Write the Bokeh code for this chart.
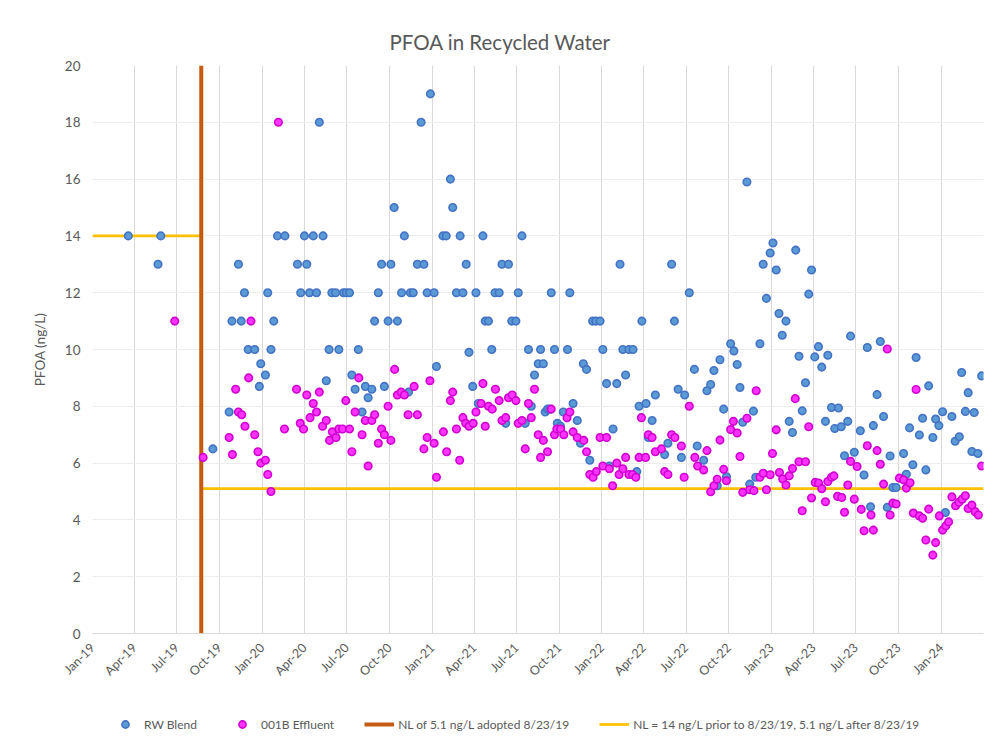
import math
import pandas as pd
from bokeh.plotting import figure
from bokeh.layouts import column
from bokeh.models import (Legend, LegendItem, FixedTicker, DatetimeTickFormatter, Range1d)
from bokeh.embed import file_html
from bokeh.resources import INLINE

# ---------------- data ----------------
rw_dates = [
    "2019-03-19", "2019-05-22", "2019-05-28", "2019-09-17", "2019-10-22", "2019-10-28", "2019-11-11", "2019-11-17",
    "2019-11-24", "2019-12-02", "2019-12-16", "2019-12-26", "2019-12-29", "2020-01-08", "2020-01-13", "2020-01-20",
    "2020-01-26", "2020-02-03", "2020-02-19", "2020-03-17", "2020-03-24", "2020-04-01", "2020-04-06", "2020-04-12",
    "2020-04-20", "2020-04-27", "2020-05-03", "2020-05-11", "2020-05-18", "2020-05-24", "2020-05-30", "2020-06-07",
    "2020-06-14", "2020-06-24", "2020-06-30", "2020-07-07", "2020-07-12", "2020-07-19", "2020-07-26", "2020-08-03",
    "2020-08-10", "2020-08-16", "2020-08-24", "2020-08-30", "2020-09-07", "2020-09-14", "2020-09-20", "2020-09-28",
    "2020-10-04", "2020-10-11", "2020-10-18", "2020-10-27", "2020-11-02", "2020-11-11", "2020-11-15", "2020-11-21",
    "2020-11-30", "2020-12-08", "2020-12-14", "2020-12-21", "2020-12-28", "2021-01-05", "2021-01-10", "2021-01-24",
    "2021-01-31", "2021-02-09", "2021-02-14", "2021-02-22", "2021-03-02", "2021-03-08", "2021-03-15", "2021-03-21",
    "2021-03-29", "2021-04-05", "2021-04-10", "2021-04-20", "2021-04-25", "2021-05-02", "2021-05-09", "2021-05-16",
    "2021-05-25", "2021-05-31", "2021-06-08", "2021-06-14", "2021-06-21", "2021-06-30", "2021-07-05", "2021-07-13",
    "2021-07-20", "2021-07-27", "2021-08-02", "2021-08-09", "2021-08-17", "2021-08-22", "2021-08-28", "2021-09-01",
    "2021-09-06", "2021-09-11", "2021-09-14", "2021-09-21", "2021-09-27", "2021-10-04", "2021-10-10", "2021-10-19",
    "2021-10-24", "2021-10-31", "2021-11-09", "2021-11-16", "2021-11-22", "2021-11-29", "2021-12-06", "2021-12-12",
    "2021-12-19", "2021-12-28", "2022-01-03", "2022-01-11", "2022-01-17", "2022-01-25", "2022-02-02", "2022-02-09",
    "2022-02-15", "2022-02-21", "2022-02-28", "2022-03-09", "2022-03-17", "2022-03-22", "2022-03-28", "2022-04-06",
    "2022-04-11", "2022-04-19", "2022-04-26", "2022-05-16", "2022-05-23", "2022-05-31", "2022-06-06", "2022-06-14",
    "2022-06-21", "2022-06-28", "2022-07-08", "2022-07-19", "2022-07-25", "2022-08-08", "2022-08-15", "2022-08-23",
    "2022-08-30", "2022-09-06", "2022-09-12", "2022-09-20", "2022-09-26", "2022-10-05", "2022-10-12", "2022-10-19",
    "2022-10-25", "2022-10-31", "2022-11-09", "2022-11-15", "2022-11-23", "2022-11-28", "2022-12-07", "2022-12-14",
    "2022-12-21", "2022-12-29", "2023-01-04", "2023-01-11", "2023-01-17", "2023-01-24", "2023-02-01", "2023-02-08",
    "2023-02-15", "2023-02-22", "2023-03-01", "2023-03-08", "2023-03-15", "2023-03-22", "2023-03-28", "2023-04-04",
    "2023-04-12", "2023-04-19", "2023-04-27", "2023-05-02", "2023-05-10", "2023-05-17", "2023-05-25", "2023-05-31",
    "2023-06-07", "2023-06-14", "2023-06-20", "2023-06-28", "2023-07-11", "2023-07-19", "2023-07-26", "2023-08-02",
    "2023-08-08", "2023-08-16", "2023-08-23", "2023-08-30", "2023-09-07", "2023-09-13", "2023-09-19", "2023-09-26",
    "2023-10-12", "2023-10-18", "2023-10-25", "2023-11-01", "2023-11-08", "2023-11-15", "2023-11-22", "2023-11-29",
    "2023-12-05", "2023-12-14", "2023-12-20", "2023-12-27", "2024-01-04", "2024-01-10", "2024-01-24", "2024-01-31",
    "2024-02-09", "2024-02-14", "2024-02-22", "2024-02-28", "2024-03-07", "2024-03-12", "2024-03-20", "2024-03-28",
]
rw_values = [
    14, 13, 14, 6.5, 7.8, 11, 13, 11,
    12, 10, 10, 8.7, 9.5, 9.1, 12, 10,
    11, 14, 14, 13, 12, 14, 13, 12,
    14, 12, 18, 14, 8.9, 10, 12, 12,
    10, 12, 12, 12, 9.1, 8.6, 10, 7.8,
    8.7, 8.3, 8.6, 11, 12, 13, 8.7, 11,
    13, 15, 11, 12, 14, 8.5, 12, 12,
    13, 18, 13, 12, 19, 12, 9.4, 14,
    14, 16, 15, 12, 14, 12, 13, 9.9,
    8.7, 12, 8.1, 14, 11, 11, 10, 12,
    12, 13, 7.4, 13, 11, 11, 12, 14,
    7.4, 10, 8.0, 9.1, 9.5, 10, 9.5, 7.8,
    7.9, 7.9, 12, 10, 7.4, 7.3, 7.8, 10,
    12, 8.1, 7.5, 6.7, 9.5, 9.3, 6.1, 11,
    11, 11, 10, 8.8, 5.9, 7.2, 8.8, 13,
    10, 9.1, 10, 10, 5.7, 8.0, 11, 8.1,
    6.9, 7.5, 8.4, 6.3, 6.7, 13, 11, 8.6,
    6.2, 8.4, 12, 9.3, 6.6, 6.1, 8.55, 8.77,
    9.26, 5.2, 9.64, 7.9, 5.52, 10.2, 9.95, 9.47,
    8.66, 7.44, 15.9, 5.26, 7.83, 5.5, 10.2, 13.0,
    11.8, 13.4, 13.75, 12.8, 11.27, 10.5, 11.0, 7.47,
    7.08, 13.5, 9.76, 7.84, 8.83, 11.95, 12.8, 9.74,
    10.1, 9.38, 7.47, 9.8, 7.96, 7.22, 7.94, 7.28,
    6.26, 7.47, 10.47, 6.38, 7.14, 5.58, 10.07, 4.46,
    7.32, 8.41, 10.28, 7.64, 4.44, 6.25, 5.14, 5.14,
    6.34, 5.61, 7.24, 5.94, 9.72, 6.99, 7.58, 5.76,
    8.72, 6.9, 7.55, 7.32, 7.81, 4.26, 7.64, 6.77,
    6.93, 9.19, 7.82, 8.48, 6.41, 7.78, 6.34, 9.07,
]

eff_dates = [
    "2019-06-27", "2019-08-27", "2019-10-22", "2019-10-29", "2019-11-05", "2019-11-11", "2019-11-18", "2019-11-25",
    "2019-12-03", "2019-12-08", "2019-12-16", "2019-12-23", "2019-12-29", "2020-01-08", "2020-01-13", "2020-01-20",
    "2020-02-05", "2020-02-18", "2020-03-15", "2020-03-23", "2020-03-30", "2020-04-06", "2020-04-13", "2020-04-20",
    "2020-04-27", "2020-05-03", "2020-05-10", "2020-05-18", "2020-05-25", "2020-05-31", "2020-06-08", "2020-06-14",
    "2020-06-22", "2020-06-29", "2020-07-07", "2020-07-12", "2020-07-19", "2020-07-27", "2020-08-03", "2020-08-10",
    "2020-08-16", "2020-08-24", "2020-08-30", "2020-09-07", "2020-09-14", "2020-09-20", "2020-09-28", "2020-10-04",
    "2020-10-12", "2020-10-18", "2020-10-26", "2020-11-02", "2020-11-10", "2020-11-23", "2020-11-30", "2020-12-14",
    "2020-12-21", "2020-12-27", "2021-01-05", "2021-01-10", "2021-01-25", "2021-02-01", "2021-02-09", "2021-02-14",
    "2021-02-22", "2021-03-01", "2021-03-08", "2021-03-14", "2021-03-21", "2021-03-30", "2021-04-05", "2021-04-16",
    "2021-04-20", "2021-04-25", "2021-05-02", "2021-05-10", "2021-05-17", "2021-05-25", "2021-05-31", "2021-06-08",
    "2021-06-14", "2021-06-22", "2021-06-30", "2021-07-05", "2021-07-13", "2021-07-20", "2021-07-27", "2021-08-02",
    "2021-08-09", "2021-08-17", "2021-08-22", "2021-08-28", "2021-09-06", "2021-09-14", "2021-09-21", "2021-09-26",
    "2021-10-04", "2021-10-11", "2021-10-18", "2021-10-24", "2021-10-31", "2021-11-09", "2021-11-23", "2021-11-29",
    "2021-12-06", "2021-12-13", "2021-12-20", "2021-12-28", "2022-01-03", "2022-01-11", "2022-01-17", "2022-01-24",
    "2022-02-02", "2022-02-07", "2022-02-15", "2022-02-21", "2022-02-28", "2022-03-08", "2022-03-15", "2022-03-22",
    "2022-03-27", "2022-04-05", "2022-04-11", "2022-04-19", "2022-04-26", "2022-05-09", "2022-05-16", "2022-05-23",
    "2022-05-31", "2022-06-07", "2022-06-21", "2022-06-27", "2022-07-08", "2022-07-20", "2022-07-26", "2022-08-08",
    "2022-08-15", "2022-08-23", "2022-08-30", "2022-09-06", "2022-09-12", "2022-09-20", "2022-09-26", "2022-10-05",
    "2022-10-11", "2022-10-19", "2022-10-25", "2022-10-31", "2022-11-09", "2022-11-15", "2022-11-24", "2022-11-29",
    "2022-12-07", "2022-12-14", "2022-12-21", "2022-12-29", "2023-01-03", "2023-01-11", "2023-01-18", "2023-01-25",
    "2023-02-01", "2023-02-08", "2023-02-15", "2023-02-21", "2023-03-01", "2023-03-08", "2023-03-15", "2023-03-22",
    "2023-03-28", "2023-04-05", "2023-04-12", "2023-04-19", "2023-04-27", "2023-05-02", "2023-05-10", "2023-05-15",
    "2023-05-23", "2023-06-01", "2023-06-07", "2023-06-14", "2023-06-20", "2023-06-28", "2023-07-04", "2023-07-13",
    "2023-07-19", "2023-07-26", "2023-08-03", "2023-08-08", "2023-08-16", "2023-08-23", "2023-08-30", "2023-09-07",
    "2023-09-13", "2023-09-19", "2023-09-26", "2023-10-03", "2023-10-12", "2023-10-18", "2023-10-26", "2023-11-02",
    "2023-11-08", "2023-11-15", "2023-11-22", "2023-11-29", "2023-12-05", "2023-12-14", "2023-12-20", "2023-12-28",
    "2024-01-04", "2024-01-11", "2024-01-17", "2024-01-24", "2024-02-01", "2024-02-08", "2024-02-15", "2024-02-22",
    "2024-02-28", "2024-03-07", "2024-03-14", "2024-03-21", "2024-03-28",
]
eff_values = [
    11, 6.2, 6.9, 6.3, 8.6, 7.8, 7.7, 7.3,
    9.0, 11, 7.0, 6.4, 6.0, 6.1, 5.6, 5.0,
    18, 7.2, 8.6, 7.4, 7.2, 8.4, 7.6, 8.1,
    7.8, 8.5, 7.3, 7.5, 6.8, 7.1, 6.9, 7.2,
    7.2, 8.2, 7.2, 6.4, 7.8, 9.0, 7.0, 7.5,
    5.9, 7.5, 7.7, 6.7, 7.2, 7.0, 8.0, 6.8,
    9.3, 8.4, 8.5, 8.4, 7.7, 8.7, 7.7, 6.5,
    6.9, 8.9, 6.7, 5.5, 7.1, 6.4, 8.2, 8.5,
    7.2, 6.1, 7.6, 7.4, 7.3, 7.4, 7.8, 8.1,
    8.8, 7.3, 8.0, 7.9, 8.6, 8.2, 7.5, 7.6,
    8.3, 8.4, 8.2, 7.4, 7.5, 6.5, 8.1, 7.6,
    8.6, 7.0, 6.2, 6.8, 6.4, 7.9, 7.0, 7.2,
    7.2, 7.0, 7.6, 7.8, 7.1, 6.9, 6.8, 6.4,
    5.6, 5.5, 5.7, 6.9, 5.9, 6.9, 5.8, 5.2,
    6.0, 5.6, 5.8, 6.2, 5.6, 5.6, 5.5, 6.2,
    7.6, 6.2, 7.0, 6.9, 6.4, 6.5, 5.7, 5.6,
    7.0, 6.9, 6.6, 5.5, 8.0, 6.2, 5.9, 5.76,
    6.44, 4.99, 5.2, 5.43, 6.81, 5.78, 5.38, 7.18,
    7.47, 7.06, 6.23, 4.97, 7.58, 5.06, 5.03, 8.55,
    5.5, 5.64, 5.06, 5.59, 6.34, 7.17, 5.67, 5.44,
    5.23, 5.55, 5.81, 8.27, 6.05, 4.32, 6.05, 7.28,
    4.77, 5.32, 5.3, 5.1, 4.64, 5.35, 5.5, 5.55,
    4.83, 4.79, 4.27, 5.23, 6.06, 4.73, 5.88, 4.37,
    3.62, 6.61, 4.17, 3.64, 6.44, 5.96, 5.26, 10.02,
    4.17, 4.59, 4.56, 5.47, 5.41, 5.12, 5.31, 4.24,
    8.59, 4.14, 4.06, 3.29, 4.38, 2.76, 3.2, 4.14,
    3.64, 3.79, 3.93, 4.81, 4.5, 4.62, 4.73, 4.85,
    4.4, 4.52, 4.29, 4.17, 5.9,
]

nl_adopted_date = "2019-08-23"
nl_prior = 14
nl_after = 5.1
x_start = "2019-01-01"
x_end = "2024-04-01"
y_min, y_max = 0, 20
y_ticks = [0, 2, 4, 6, 8, 10, 12, 14, 16, 18, 20]
quarter_ticks = [
    "2019-01-01", "2019-04-01", "2019-07-01", "2019-10-01",
    "2020-01-01", "2020-04-01", "2020-07-01", "2020-10-01",
    "2021-01-01", "2021-04-01", "2021-07-01", "2021-10-01",
    "2022-01-01", "2022-04-01", "2022-07-01", "2022-10-01",
    "2023-01-01", "2023-04-01", "2023-07-01", "2023-10-01",
    "2024-01-01",
]

title_text = "PFOA in Recycled Water"
y_label = "PFOA (ng/L)"
label_rw = "RW Blend"
label_eff = "001B Effluent"
label_nl_adopt = "NL of 5.1 ng/L adopted 8/23/19"
label_nl = "NL = 14 ng/L prior to 8/23/19, 5.1 ng/L after 8/23/19"

# ---------------- styling ----------------
FONT = "Lato"
GREY = "#595959"
RW_FILL, RW_LINE = "#5B9BD5", "#4472C4"
EFF_FILL, EFF_LINE = "#FF33FF", "#D000D0"
NL_COLOR, ADOPT_COLOR = "#FFC000", "#C55A11"


def ms(d):
    return pd.Timestamp(d).value / 1e6


x_range = Range1d(pd.Timestamp(x_start), pd.Timestamp(x_end))

p = figure(
    width=1000, height=705,
    x_axis_type="datetime",
    x_range=x_range,
    y_range=Range1d(y_min, y_max),
    output_backend="svg", toolbar_location=None,
    min_border_left=92, min_border_right=17, min_border_top=65, min_border_bottom=72,
)
p.outline_line_color = None
p.background_fill_color = "white"
p.border_fill_color = "white"

p.title.text = title_text
p.title.align = "left"
p.title.offset = 297
p.title.standoff = 24
p.title.text_font = FONT
p.title.text_font_size = "20.5px"
p.title.text_font_style = "normal"
p.title.text_color = GREY

# axes
xa = p.xaxis[0]
xa.ticker = FixedTicker(ticks=[ms(d) for d in quarter_ticks])
fmt = "%b-%y"
xa.formatter = DatetimeTickFormatter(
    microseconds=fmt, milliseconds=fmt, seconds=fmt, minsec=fmt, minutes=fmt,
    hourmin=fmt, hours=fmt, days=fmt, months=fmt, years=fmt)
xa.major_label_orientation = math.pi / 4
xa.major_tick_out = 0
xa.major_tick_in = 0
xa.minor_tick_out = 0
xa.minor_tick_in = 0
xa.axis_line_color = "#D9D9D9"
xa.major_label_text_font = FONT
xa.major_label_text_font_size = "12.5px"
xa.major_label_text_color = GREY
xa.major_label_standoff = 12

ya = p.yaxis[0]
ya.ticker = FixedTicker(ticks=y_ticks)
ya.major_tick_out = 0
ya.major_tick_in = 0
ya.minor_tick_out = 0
ya.minor_tick_in = 0
ya.axis_line_color = None
ya.major_label_text_font = FONT
ya.major_label_text_font_size = "13.5px"
ya.major_label_text_color = GREY
ya.major_label_standoff = 12
ya.axis_label = y_label
ya.axis_label_text_font = FONT
ya.axis_label_text_font_size = "13.5px"
ya.axis_label_text_font_style = "normal"
ya.axis_label_text_color = GREY
ya.axis_label_standoff = 14

p.xgrid.ticker = FixedTicker(ticks=[ms(d) for d in quarter_ticks + [x_end]])
p.xgrid.grid_line_color = "#D9D9D9"
p.xgrid.grid_line_width = 1
p.ygrid.ticker = FixedTicker(ticks=y_ticks)
p.ygrid.grid_line_color = "#EDEDED"
p.ygrid.grid_line_width = 1

# NL lines
nl_x = pd.to_datetime([x_start, nl_adopted_date, nl_adopted_date, x_end])
nl_y = [nl_prior, nl_prior, nl_after, nl_after]
adopt_x = pd.to_datetime([nl_adopted_date, nl_adopted_date])
adopt_y = [y_min, y_max]
rw_x = pd.to_datetime(rw_dates)
eff_x = pd.to_datetime(eff_dates)


def draw_series(fig):
    r_nl = fig.line(nl_x, nl_y, line_color=NL_COLOR, line_width=2.75)
    r_adopt = fig.line(adopt_x, adopt_y, line_color=ADOPT_COLOR, line_width=4)
    r_rw = fig.scatter(rw_x, rw_values, marker="circle", size=7.5,
                       fill_color=RW_FILL, line_color=RW_LINE, line_width=1.6)
    r_eff = fig.scatter(eff_x, eff_values, marker="circle", size=7.5,
                        fill_color=EFF_FILL, line_color=EFF_LINE, line_width=1.6)
    return r_rw, r_eff, r_adopt, r_nl


draw_series(p)

# ---------------- legend strip below the chart ----------------
# Same series in a thin strip whose value range lies outside the data, so only
# the legend keys are visible there.
lg = figure(
    width=1000, height=31, output_backend="svg", toolbar_location=None,
    x_range=x_range, y_range=Range1d(-30, -20),
    x_axis_location=None, y_axis_location=None,
    min_border_left=0, min_border_right=0, min_border_top=0, min_border_bottom=0,
)
lg.grid.visible = False
lg.outline_line_color = None
lg.background_fill_color = "white"
lg.border_fill_color = "white"

k_rw, k_eff, k_adopt, k_nl = draw_series(lg)

legend = Legend(
    items=[
        LegendItem(label=label_rw, renderers=[k_rw]),
        LegendItem(label=label_eff, renderers=[k_eff]),
        LegendItem(label=label_nl_adopt, renderers=[k_adopt]),
        LegendItem(label=label_nl, renderers=[k_nl]),
    ],
    orientation="horizontal",
    location=(18, 3),
    glyph_width=30, glyph_height=18,
    label_standoff=4, spacing=30, padding=0, margin=0,
    border_line_color=None, background_fill_alpha=0,
    label_text_font=FONT, label_text_font_size="12px", label_text_color=GREY,
)
lg.add_layout(legend)

layout = column(p, lg, spacing=0)

open("out.html", "w").write(file_html(layout, INLINE))
